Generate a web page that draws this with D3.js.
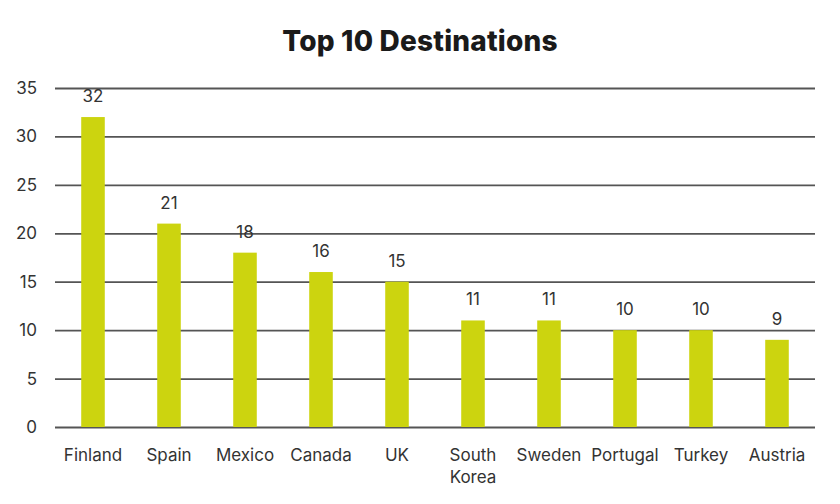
<!DOCTYPE html>
<html>
<head>
<meta charset="utf-8">
<script src="https://cdn.jsdelivr.net/npm/d3@7"></script>
<style>
  body { margin: 0; background: #fff; }
  svg text { font-family: Inter, "Noto Sans", sans-serif; }
</style>
</head>
<body>
<svg id="chart" width="840" height="504"></svg>
<script>
// chart data
const countries = ['Finland', 'Spain', 'Mexico', 'Canada', 'UK', 'South Korea', 'Sweden', 'Portugal', 'Turkey', 'Austria'];
const visits = [32, 21, 18, 16, 15, 11, 11, 10, 10, 9];
const yTicks = [0, 5, 10, 15, 20, 25, 30, 35];

const margin = { top: 88, right: 25, bottom: 77, left: 55 };
const width = 840, height = 504;

const svg = d3.select('#chart');

const x = d3.scaleBand()
    .domain(countries)
    .range([margin.left, width - margin.right])
    .paddingInner(0.69)
    .paddingOuter(0.345);

const y = d3.scaleLinear()
    .domain([0, 35])
    .range([height - margin.bottom, margin.top]);

// title
svg.append('text')
    .attr('x', 420)
    .attr('y', 51)
    .attr('text-anchor', 'middle')
    .attr('font-size', 28)
    .attr('font-weight', 800)
    .attr('letter-spacing', 0.2)
    .attr('fill', '#1a1a1a')
    .text('Top 10 Destinations');

// y axis with gridlines
const yAxis = svg.append('g')
    .attr('transform', 'translate(' + margin.left + ',0)')
    .call(d3.axisLeft(y).tickValues(yTicks).tickSize(-(width - margin.left - margin.right)).tickPadding(18));
yAxis.select('.domain').remove();
yAxis.selectAll('.tick line').attr('stroke', '#555').attr('stroke-width', 1.8);
yAxis.selectAll('.tick text').attr('font-size', 17).attr('fill', '#333');

// bars
svg.append('g')
    .selectAll('rect')
    .data(countries)
    .join('rect')
    .attr('x', (d) => x(d))
    .attr('y', (d, i) => y(visits[i]))
    .attr('width', x.bandwidth())
    .attr('height', (d, i) => y(0) - y(visits[i]))
    .attr('fill', '#ccd40f');

// value labels
svg.append('g')
    .selectAll('text')
    .data(countries)
    .join('text')
    .attr('x', (d) => x(d) + x.bandwidth() / 2)
    .attr('y', (d, i) => y(visits[i]) - 15)
    .attr('text-anchor', 'middle')
    .attr('font-size', 17)
    .attr('fill', '#333')
    .text((d, i) => visits[i]);

// x axis labels, wrapping two-word names
const xAxis = svg.append('g')
    .attr('transform', 'translate(0,' + y(0) + ')')
    .call(d3.axisBottom(x).tickSize(0).tickPadding(0));
xAxis.select('.domain').remove();
xAxis.selectAll('.tick text')
    .attr('font-size', 17)
    .attr('fill', '#333')
    .attr('y', 34)
    .attr('dy', null)
    .each(function (d) {
        const words = d.split(' ');
        if (words.length < 2 || d.length < 10) return;
        const t = d3.select(this).text(null);
        words.forEach((w, i) => {
            t.append('tspan').attr('x', 0).attr('dy', i ? 22 : 0).text(w);
        });
    });
</script>
</body>
</html>
